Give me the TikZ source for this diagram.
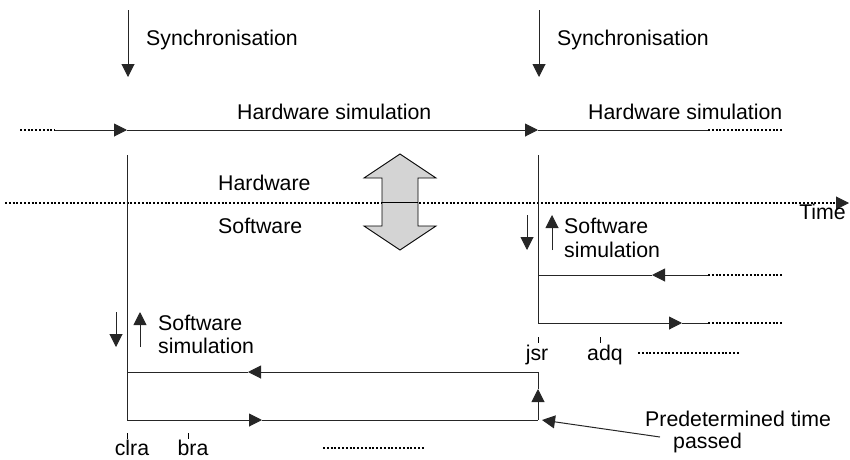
\documentclass[tikz,border=0pt]{standalone}
\usepackage{fontspec}
\setmainfont{Liberation Sans}
\usetikzlibrary{arrows.meta}
\begin{document}
\begin{tikzpicture}[x=1pt,y=-1pt,
  ln/.style={line width=1pt,draw=black!85},
  tip/.style={-{Triangle[length=13pt,width=13pt]}},
  dots/.style={line width=1.8pt,dash pattern=on 2pt off 1.8pt},
  lbl/.style={font=\fontsize{21.3}{25}\selectfont,inner sep=0pt,anchor=base west},
  tick/.style={line width=0.8pt}]
\useasboundingbox (0,0) rectangle (850,459);
% coordinates
\coordinate (L) at (127,130);
\coordinate (R) at (538,130);
% synchronisation arrows
\draw[ln,tip] (128,10) -- (128,77);
\draw[ln,tip] (539,10) -- (539,77);
\node[lbl] (s1) at (146,45) {Synchronisation};
\node[lbl] (s2) at (557,45) {Synchronisation};
% hardware simulation line
\draw[dots] (20,130) -- (55,130);
\draw[ln,tip] (55,130) -- (L);
\draw[ln,tip] (L) -- (R);
\draw[ln] (R) -- (708,130);
\draw[dots] (708,130) -- (782,130);
\node[lbl] (h1) at (237,119) {Hardware simulation};
\node[lbl] (h2) at (588,119) {Hardware simulation};
% time line
\draw[dots] (5,203) -- (836,203);
\draw[ln,tip] (836,203) -- (849,203);
\node[lbl,anchor=base east] (time) at (846,219) {Time};
\node[lbl] (hw) at (218,190) {Hardware};
\node[lbl] (sw) at (218,233) {Software};
% double arrow
\draw[line width=0.9pt,fill=black!17] (400,154) -- (436,178) -- (418,178) -- (418,226) -- (436,226) -- (400,250)
  -- (364,226) -- (382,226) -- (382,178) -- (364,178) -- cycle;
\draw[line width=0.9pt] (382,202) -- (418,202);
% verticals
\draw[ln] (127,155) -- (127,420);
\draw[ln] (538,155) -- (538,323);
% left software sim
\draw[ln,tip] (116,312) -- (116,347);
\draw[ln,tip] (140,347) -- (140,312);
\node[lbl] (ls1) at (158,330) {Software};
\node[lbl] (ls2) at (158,353) {simulation};
% left loop
\draw[ln,tip] (538,372) -- (248,372);
\draw[ln] (248,372) -- (127,372);
\draw[ln,tip] (127,420) -- (262,420);
\draw[ln] (262,420) -- (538,420);
\draw[ln,tip] (538,420) -- (538,389);
\draw[ln] (538,389) -- (538,372);
% right software sim
\draw[ln,tip] (527,215) -- (527,250);
\draw[ln,tip] (552,250) -- (552,215);
\node[lbl] (rs1) at (564,233) {Software};
\node[lbl] (rs2) at (564,257) {simulation};
% right loop
\draw[ln,tip] (708,275) -- (652,275);
\draw[ln] (652,275) -- (538,275);
\draw[dots] (708,275) -- (782,275);
\draw[ln,tip] (538,323) -- (682,323);
\draw[ln] (682,323) -- (708,323);
\draw[dots] (708,323) -- (782,323);
% ticks and instruction labels
\draw[tick] (127,433) -- (127,439);
\draw[tick] (188,433) -- (188,439);
\draw[tick] (538,337) -- (538,343);
\draw[tick] (600,337) -- (600,343);
\node[lbl,anchor=base] (clra) at (132,455) {clra};
\node[lbl,anchor=base] (bra) at (193,455) {bra};
\node[lbl,anchor=base] (jsr) at (537,360) {jsr};
\node[lbl,anchor=base] (adq) at (605,360) {adq};
\draw[dots] (323,448) -- (425,448);
\draw[dots] (638,353) -- (740,353);
% predetermined time
\node[lbl] (p1) at (645,426) {Predetermined time};
\node[lbl] (p2) at (673,448) {passed};
\coordinate (pt) at (660,437);
\draw[ln,tip] (pt) -- (542,420);
\end{tikzpicture}
\end{document}
